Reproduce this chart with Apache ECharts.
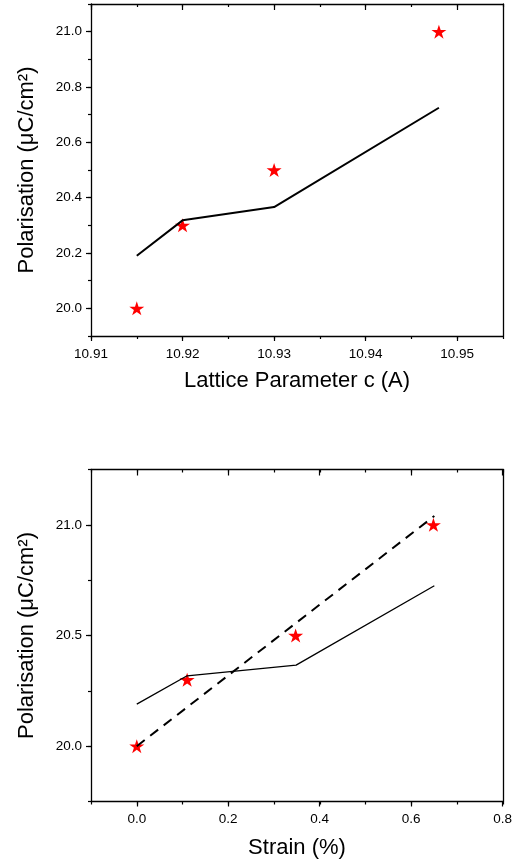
<!DOCTYPE html>
<html>
<head>
<meta charset="utf-8">
<script src="https://cdn.jsdelivr.net/npm/echarts@6/dist/echarts.min.js"></script>
<style>
html, body { margin: 0; padding: 0; background: #fff; }
#chart { width: 515px; height: 863px; }
</style>
</head>
<body>
<div id="chart"></div>
<script>
// Polarisation against lattice parameter c
const latticeC = [10.915, 10.92, 10.93, 10.948];
const polarisationMeasured = [20.0, 20.3, 20.5, 21.0];
const latticeCModel = [10.915, 10.92, 10.93, 10.948];
const polarisationModel = [20.19, 20.318, 20.366, 20.725];

// Polarisation against strain
const strain = [0, 0.11, 0.347, 0.648];
const strainModel = [0, 0.11, 0.348, 0.65];
const strainFit = [0, 0.65];
const polarisationFit = [20.0, 21.04];

// Axis ranges: labelled (major) steps and unlabelled (minor) steps
const latticeTicks = [10.91, 10.92, 10.93, 10.94, 10.95];
const polTopTicks = [20.0, 20.2, 20.4, 20.6, 20.8, 21.0];
const strainTicks = [0.0, 0.2, 0.4, 0.6, 0.8];
const polBottomTicks = [20.0, 20.5, 21.0];

const latticeRange = [10.91, 10.955];
const polTopRange = [19.9, 21.1];
const strainRange = [-0.1, 0.8];
const polBottomRange = [19.75, 21.25];

const FONT = "'Liberation Sans', Arial, sans-serif";
const INK = '#000';
const PLOT_LEFT = 91;
const PLOT_WIDTH = 412;
const PLOT_HEIGHT = 332;

const star = 'path://M50,0 L61.2,34.5 L97.6,34.5 L68.2,55.9 L79.4,90.5 L50,69.1 L20.6,90.5 L31.8,55.9 L2.4,34.5 L38.8,34.5 Z';

const grids = [], xAxes = [], yAxes = [], series = [];

function pairs(xs, ys) { return xs.map((x, i) => [x, ys[i]]); }

function axisSpec(range, ticks, minor, digits) {
  return {
    min: range[0], max: range[1], minor: minor,
    first: ticks[0], last: ticks[ticks.length - 1],
    major: ticks[1] - ticks[0], digits: digits
  };
}

const hiddenAxis = (grid) => ({ type: 'value', gridIndex: grid, show: false, min: 0, max: 1 });

// One framed panel: main grid for data + minor ticks, and two helper grids
// carrying the longer, labelled major ticks.
function addPanel(top, xs, ys, xName, yName, xNameGap) {
  const spanX = xs.max - xs.min, spanY = ys.max - ys.min;
  const gMain = grids.length;
  grids.push({ left: PLOT_LEFT, width: PLOT_WIDTH, top: top, height: PLOT_HEIGHT });

  const fx0 = (xs.first - xs.min) / spanX, fx1 = (xs.max - xs.last) / spanX;
  const gX = grids.length;
  grids.push({ left: PLOT_LEFT + PLOT_WIDTH * fx0, width: PLOT_WIDTH * (1 - fx0 - fx1), top: top, height: PLOT_HEIGHT });

  const fy0 = (ys.first - ys.min) / spanY, fy1 = (ys.max - ys.last) / spanY;
  const gY = grids.length;
  grids.push({ left: PLOT_LEFT, width: PLOT_WIDTH, top: top + PLOT_HEIGHT * fy1, height: PLOT_HEIGHT * (1 - fy0 - fy1) });

  const line = { show: true, onZero: false, lineStyle: { color: INK, width: 1.3 } };
  const noLine = { show: false, onZero: false };

  // main grid axes
  const xi = xAxes.length;
  xAxes.push({
    type: 'value', gridIndex: gMain, position: 'bottom', min: xs.min, max: xs.max, interval: xs.minor,
    axisLine: line, axisTick: { show: true, length: 3, lineStyle: { color: INK, width: 1.2 } },
    axisLabel: { show: false }, splitLine: { show: false },
    name: xName, nameLocation: 'middle', nameGap: xNameGap,
    nameTextStyle: { fontFamily: FONT, fontSize: 22, color: INK }
  });
  xAxes.push({
    type: 'value', gridIndex: gMain, position: 'top', min: xs.min, max: xs.max, interval: xs.minor,
    axisLine: line, axisTick: { show: true, inside: true, length: 3, lineStyle: { color: INK, width: 1.2 } },
    axisLabel: { show: false }, splitLine: { show: false }
  });
  const yi = yAxes.length;
  yAxes.push({
    type: 'value', gridIndex: gMain, position: 'left', min: ys.min, max: ys.max, interval: ys.minor,
    axisLine: line, axisTick: { show: true, length: 3, lineStyle: { color: INK, width: 1.2 } },
    axisLabel: { show: false }, splitLine: { show: false },
    name: yName, nameLocation: 'middle', nameGap: 53,
    nameTextStyle: { fontFamily: FONT, fontSize: 22, color: INK }
  });
  yAxes.push({
    type: 'value', gridIndex: gMain, position: 'right', min: ys.min, max: ys.max,
    axisLine: line, axisTick: { show: false }, axisLabel: { show: false }, splitLine: { show: false }
  });

  // major x ticks and labels
  xAxes.push({
    type: 'value', gridIndex: gX, position: 'bottom', min: xs.first, max: xs.last, interval: xs.major,
    axisLine: noLine, axisTick: { show: true, length: 5, lineStyle: { color: INK, width: 1.2 } },
    axisLabel: { show: true, margin: 11, fontFamily: FONT, fontSize: 13.5, color: INK,
      formatter: (v) => v.toFixed(xs.digits) },
    splitLine: { show: false }
  });
  xAxes.push({
    type: 'value', gridIndex: gX, position: 'top', min: xs.first, max: xs.last, interval: xs.major,
    axisLine: noLine, axisTick: { show: true, inside: true, length: 6, lineStyle: { color: INK, width: 1.2 } },
    axisLabel: { show: false }, splitLine: { show: false }
  });
  yAxes.push(hiddenAxis(gX));

  // major y ticks and labels
  yAxes.push({
    type: 'value', gridIndex: gY, position: 'left', min: ys.first, max: ys.last, interval: ys.major,
    axisLine: noLine, axisTick: { show: true, length: 5, lineStyle: { color: INK, width: 1.2 } },
    axisLabel: { show: true, margin: 9, fontFamily: FONT, fontSize: 13.5, color: INK,
      formatter: (v) => v.toFixed(ys.digits) },
    splitLine: { show: false }
  });
  xAxes.push(hiddenAxis(gY));

  return { xi: xi, yi: yi };
}

const topPanel = addPanel(4,
  axisSpec(latticeRange, latticeTicks, 0.005, 2),
  axisSpec(polTopRange, polTopTicks, 0.1, 1),
  'Lattice Parameter c (A)', 'Polarisation (\u03bcC/cm\u00b2)', 34);

const bottomPanel = addPanel(469.5,
  axisSpec(strainRange, strainTicks, 0.1, 1),
  axisSpec(polBottomRange, polBottomTicks, 0.25, 1),
  'Strain (%)', 'Polarisation (\u03bcC/cm\u00b2)', 35);

const starStyle = { color: '#ff0000', opacity: 1 };

// upper panel: model curve and measured points
series.push({
  type: 'line', xAxisIndex: topPanel.xi, yAxisIndex: topPanel.yi,
  data: pairs(latticeCModel, polarisationModel), symbol: 'none',
  lineStyle: { color: INK, width: 2 }
});
series.push({
  type: 'scatter', xAxisIndex: topPanel.xi, yAxisIndex: topPanel.yi,
  data: pairs(latticeC, polarisationMeasured), symbol: star, symbolSize: [15, 14],
  itemStyle: starStyle
});

// lower panel: measured points, model curve and linear trend
series.push({
  type: 'scatter', xAxisIndex: bottomPanel.xi, yAxisIndex: bottomPanel.yi,
  data: pairs(strain, polarisationMeasured), symbol: star, symbolSize: [15, 14],
  itemStyle: starStyle
});
series.push({
  type: 'line', xAxisIndex: bottomPanel.xi, yAxisIndex: bottomPanel.yi,
  data: pairs(strainModel, polarisationModel), symbol: 'none',
  lineStyle: { color: INK, width: 1.3 }
});
series.push({
  type: 'line', xAxisIndex: bottomPanel.xi, yAxisIndex: bottomPanel.yi,
  data: pairs(strainFit, polarisationFit), symbol: 'none',
  lineStyle: { color: INK, width: 2, type: [10, 7] }
});

const chart = echarts.init(document.getElementById('chart'), null, { renderer: 'canvas' });
chart.setOption({
  animation: false,
  backgroundColor: '#fff',
  grid: grids,
  xAxis: xAxes,
  yAxis: yAxes,
  series: series
});
</script>
</body>
</html>
